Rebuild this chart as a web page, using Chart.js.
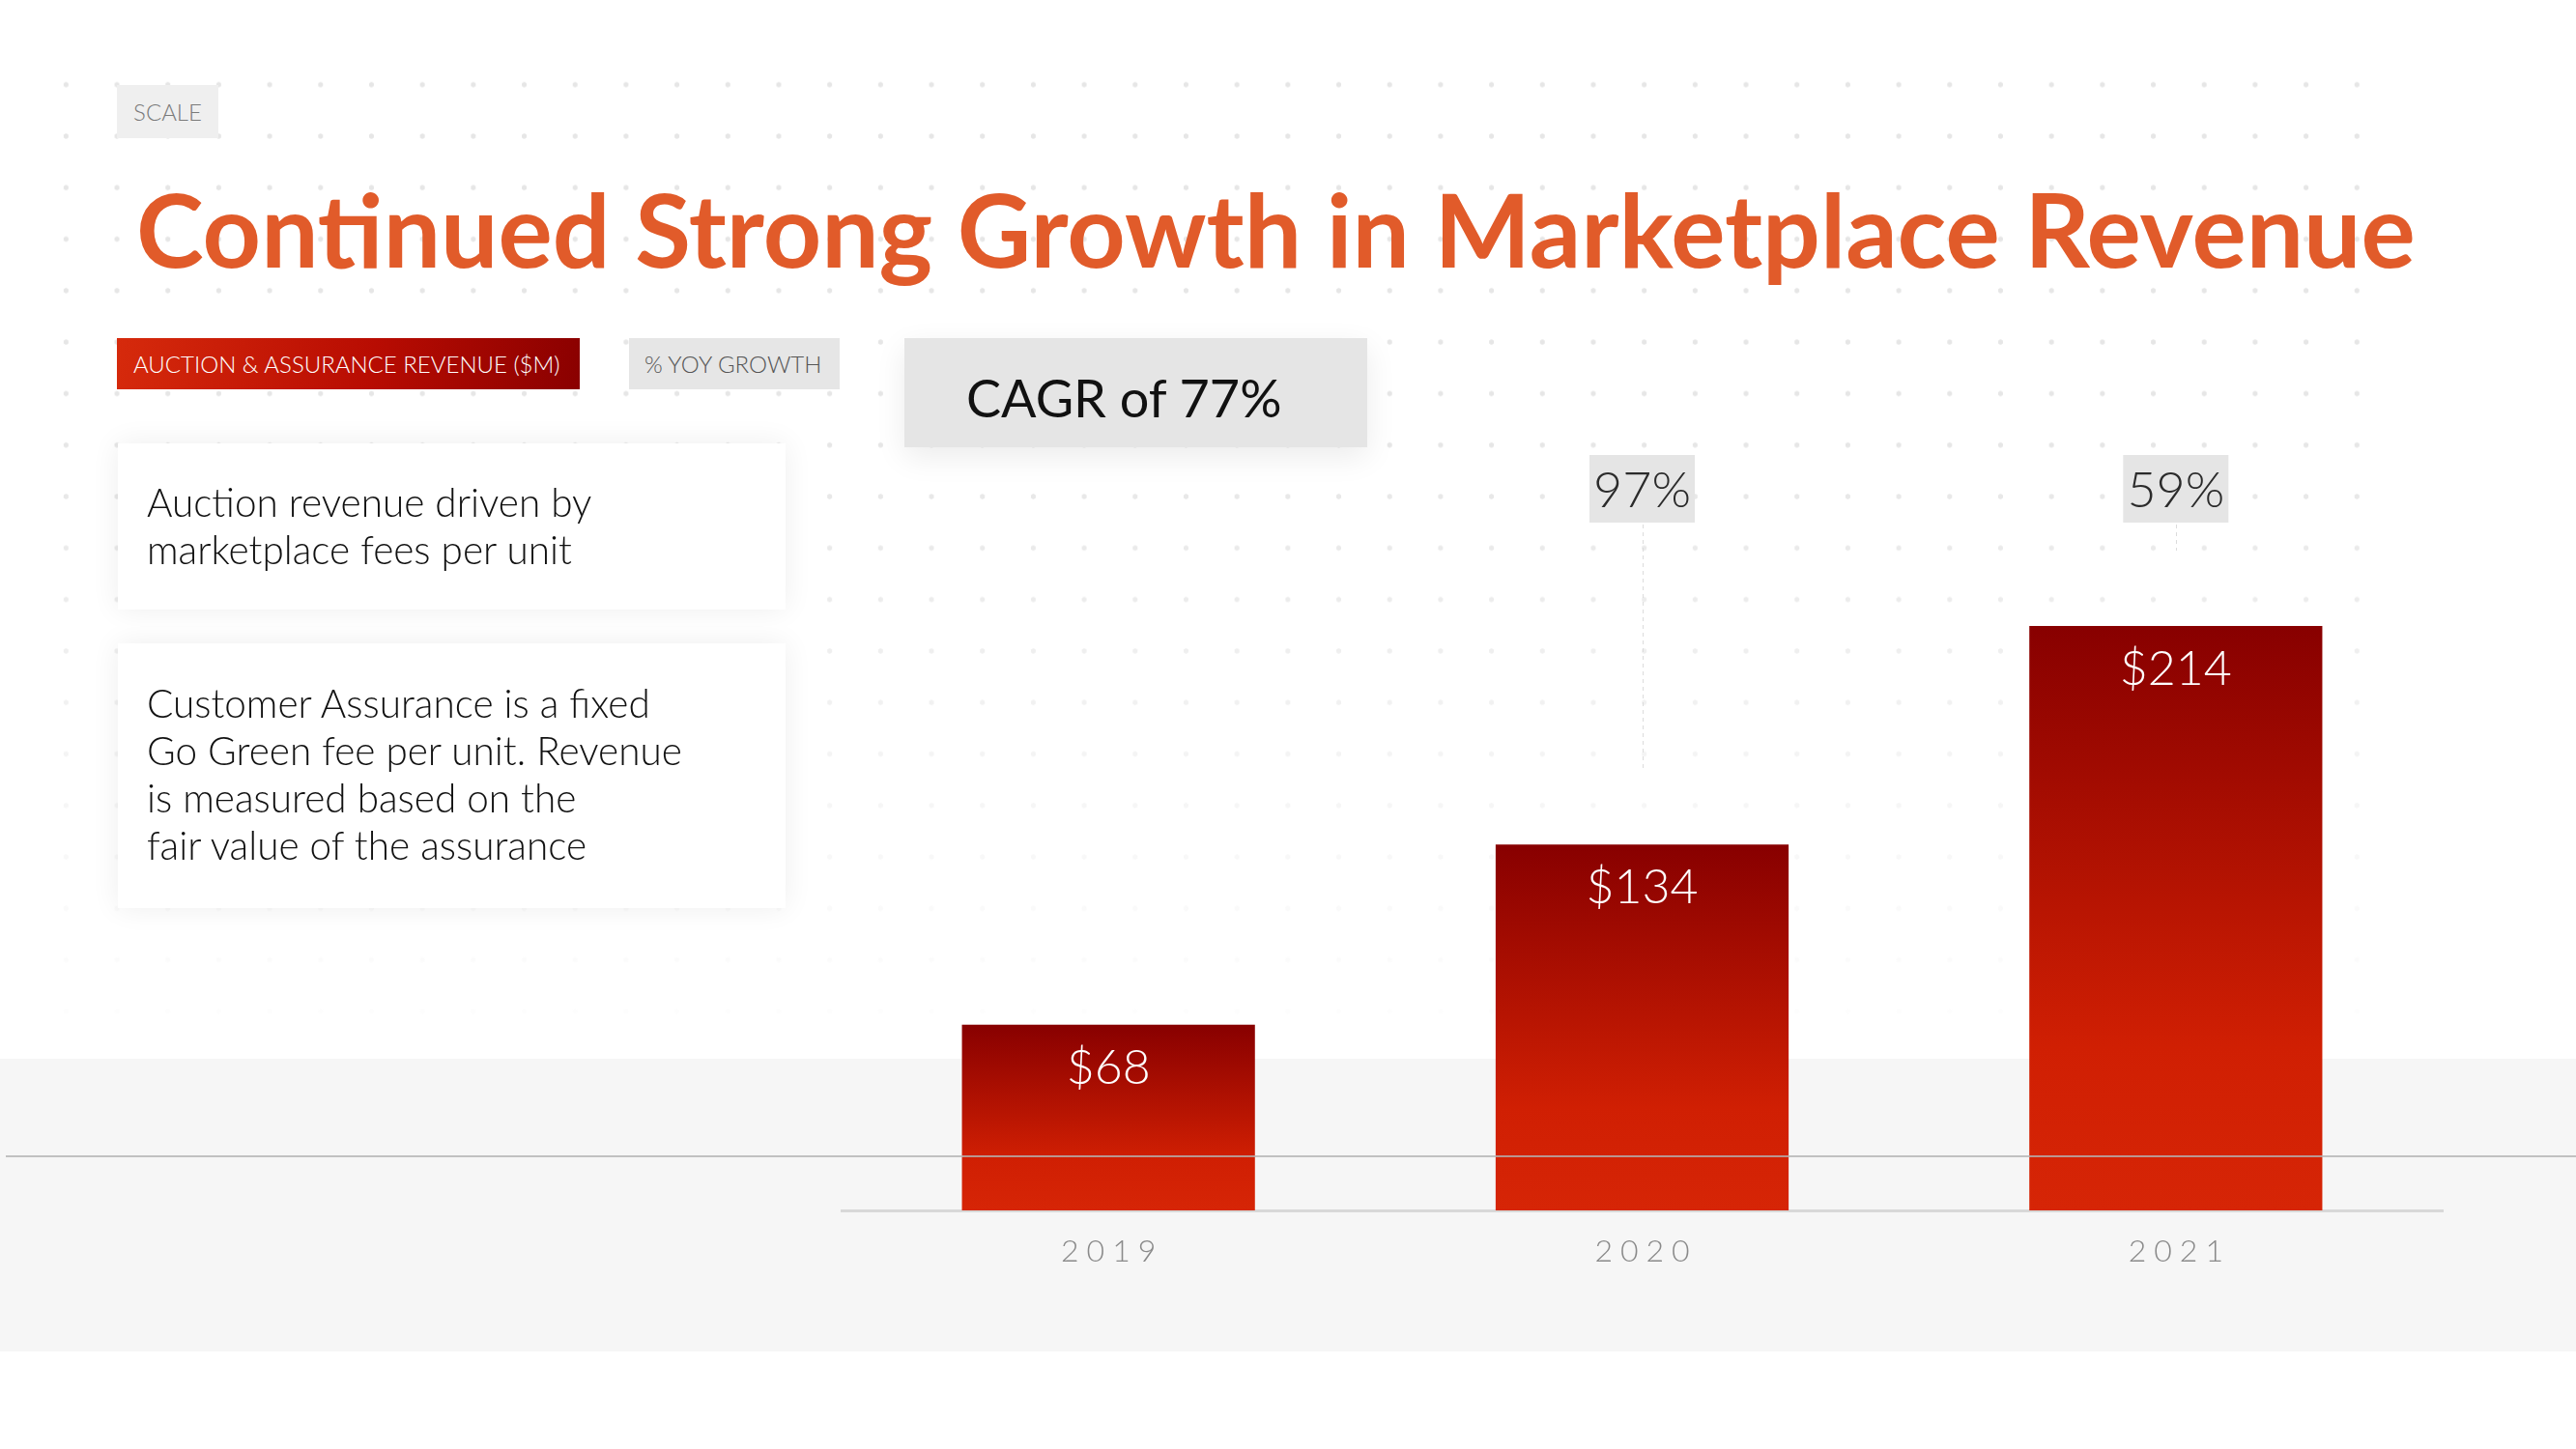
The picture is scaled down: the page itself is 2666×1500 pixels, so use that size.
<!DOCTYPE html>
<html>
<head>
<meta charset="utf-8">
<script src="https://cdn.jsdelivr.net/npm/chart.js@4.4.1/dist/chart.umd.min.js"></script>
<style>
html,body{margin:0;padding:0;width:2666px;height:1500px;overflow:hidden;background:#fff;font-family:Lato,"Open Sans",sans-serif;}
.abs{position:absolute;}
#dots{left:42px;top:61px;width:2420px;height:1040px;z-index:0;
  background-image:radial-gradient(circle,#e6e6e6 2.3px,rgba(255,255,255,0) 3px);
  background-size:52.7px 53.3px;
  -webkit-mask-image:linear-gradient(to bottom,#000 0%,#000 40%,rgba(0,0,0,0.35) 75%,rgba(0,0,0,0) 100%);
  mask-image:linear-gradient(to bottom,#000 0%,#000 40%,rgba(0,0,0,0.35) 75%,rgba(0,0,0,0) 100%);}
#band{left:0;top:1096px;width:2666px;height:303px;background:#f6f6f6;z-index:0;}
#hline{left:6px;top:1196px;width:2660px;height:2px;background:rgba(180,180,180,0.8);z-index:3;}
#wrap{left:0;top:0;width:2666px;height:1500px;z-index:2;}
.tag{z-index:4;display:flex;align-items:center;box-sizing:border-box;white-space:nowrap;}
#scale{left:121px;top:88px;width:105px;height:55px;background:#efefef;color:#7a7a7a;font-weight:300;font-size:24px;justify-content:center;}
#title{left:141px;top:188px;z-index:4;color:#e15b2a;font-weight:700;font-size:100px;line-height:100px;white-space:nowrap;}
#legRev{left:121px;top:350px;width:479px;height:53px;background:linear-gradient(100deg,#d62a0c 0%,#b80c02 55%,#8a0000 100%);color:#fff;font-weight:300;font-size:24px;padding-left:17px;}
#legYoy{left:651px;top:350px;width:218px;height:53px;background:#e6e6e6;color:#555;font-weight:300;font-size:24px;padding-left:16px;}
#cagr{left:936px;top:350px;width:479px;height:113px;background:#e5e5e5;color:#111;font-weight:400;font-size:54px;padding-left:64px;padding-top:9px;box-shadow:0 10px 30px rgba(0,0,0,0.08);}
.card{z-index:4;background:#fff;box-shadow:0 0 28px rgba(0,0,0,0.07);box-sizing:border-box;}
#card1{left:122px;top:459px;width:691px;height:172px;}
#card2{left:122px;top:666px;width:691px;height:274px;}
.ctext{position:absolute;left:30px;font-weight:300;font-size:40.5px;line-height:49px;color:#111;white-space:nowrap;}
#c1t{top:36px;}
#c2t{top:37px;}
</style>
</head>
<body>
<div id="dots" class="abs"></div>
<div id="band" class="abs"></div>
<div id="wrap" class="abs"><canvas id="c" width="2666" height="1500"></canvas></div>
<div id="hline" class="abs"></div>

<div id="scale" class="abs tag">SCALE</div>
<div id="title" class="abs"><span id="titleSpan">Continued Strong Growth in Marketplace Revenue</span></div>
<div id="legRev" class="abs tag"><span>AUCTION &amp; ASSURANCE REVENUE ($M)</span></div>
<div id="legYoy" class="abs tag"><span>% YOY GROWTH</span></div>
<div id="cagr" class="abs tag"><span>CAGR of 77%</span></div>
<div id="card1" class="abs card"><div id="c1t" class="ctext">Auction revenue driven by<br>marketplace fees per unit</div></div>
<div id="card2" class="abs card"><div id="c2t" class="ctext">Customer Assurance is a fixed<br>Go Green fee per unit. Revenue<br>is measured based on the<br>fair value of the assurance</div></div>

<script>
// ---- data ----
const categories = ['2019', '2020', '2021'];
const revenue = [68, 134, 214];          // Auction & Assurance revenue ($M)
const growth = [null, 97, 59];           // % YoY growth
const valuePrefix = '$';
const growthSuffix = '%';
const yMin = 0;
const yMax = 300;

// fit title width
(function(){
  const span = document.getElementById('titleSpan');
  const w = span.getBoundingClientRect().width;
  const target = 2359;
  const fs = 100 * target / w;
  const t = document.getElementById('title');
  t.style.fontSize = fs + 'px';
  t.style.lineHeight = fs + 'px';
  t.style.top = (277 - 0.887 * fs) + 'px';
})();

const barFill = (c) => {
  const chart = c.chart;
  if (!chart.chartArea || c.raw == null) return '#d42200';
  const y = chart.scales.y;
  const top = y.getPixelForValue(c.raw), bot = y.getPixelForValue(0);
  const g = chart.ctx.createLinearGradient(0, top, 0, bot);
  g.addColorStop(0, '#880000');
  g.addColorStop(0.72, '#d01f03');
  g.addColorStop(1, '#d62506');
  return g;
};

const labelPlugin = {
  id: 'labels',
  afterDatasetsDraw(chart) {
    const ctx = chart.ctx;
    const meta = chart.getDatasetMeta(0);
    ctx.save();
    meta.data.forEach((bar, i) => {
      // value inside bar
      ctx.font = '300 50px Lato, "Open Sans", sans-serif';
      ctx.fillStyle = '#ffffff';
      ctx.textAlign = 'center';
      ctx.textBaseline = 'middle';
      ctx.fillText(valuePrefix + revenue[i], bar.x, bar.y + 45);

      // category label (spaced)
      ctx.font = '300 32px Lato, "Open Sans", sans-serif';
      ctx.fillStyle = '#8a8a8a';
      ctx.letterSpacing = '8px';
      ctx.fillText(categories[i], bar.x + 4, 1296);
      ctx.letterSpacing = '0px';

      // growth tag
      if (growth[i] != null) {
        const bw = 109, bh = 70, btop = 471;
        ctx.fillStyle = '#e5e5e5';
        ctx.fillRect(bar.x - bw / 2, btop, bw, bh);
        ctx.fillStyle = '#2b2b2b';
        ctx.font = '300 52px Lato, "Open Sans", sans-serif';
        ctx.fillText(growth[i] + growthSuffix, bar.x, btop + bh / 2 + 2);
        ctx.strokeStyle = '#dcdcdc';
        ctx.lineWidth = 1;
        ctx.setLineDash([4, 4]);
        ctx.beginPath();
        ctx.moveTo(Math.round(bar.x) + 0.5, btop + bh + 2);
        ctx.lineTo(Math.round(bar.x) + 0.5, bar.y - 78);
        ctx.stroke();
        ctx.setLineDash([]);
      }
    });
    ctx.restore();
  }
};

new Chart(document.getElementById('c'), {
  type: 'bar',
  data: {
    labels: categories,
    datasets: [{
      label: 'Auction & Assurance Revenue ($M)',
      data: revenue,
      backgroundColor: barFill,
      borderWidth: 0,
      barPercentage: 1.0,
      categoryPercentage: 0.549
    }]
  },
  options: {
    responsive: false,
    devicePixelRatio: 1,
    animation: false,
    layout: { padding: { left: 871, right: 138, top: 405, bottom: 247 } },
    plugins: { legend: { display: false }, tooltip: { enabled: false } },
    scales: {
      x: {
        grid: { display: false, drawTicks: false },
        border: { display: true, color: '#d8d8d8', width: 3 },
        ticks: { display: false }
      },
      y: { display: false, min: yMin, max: yMax }
    }
  },
  plugins: [labelPlugin]
});
</script>
</body>
</html>
